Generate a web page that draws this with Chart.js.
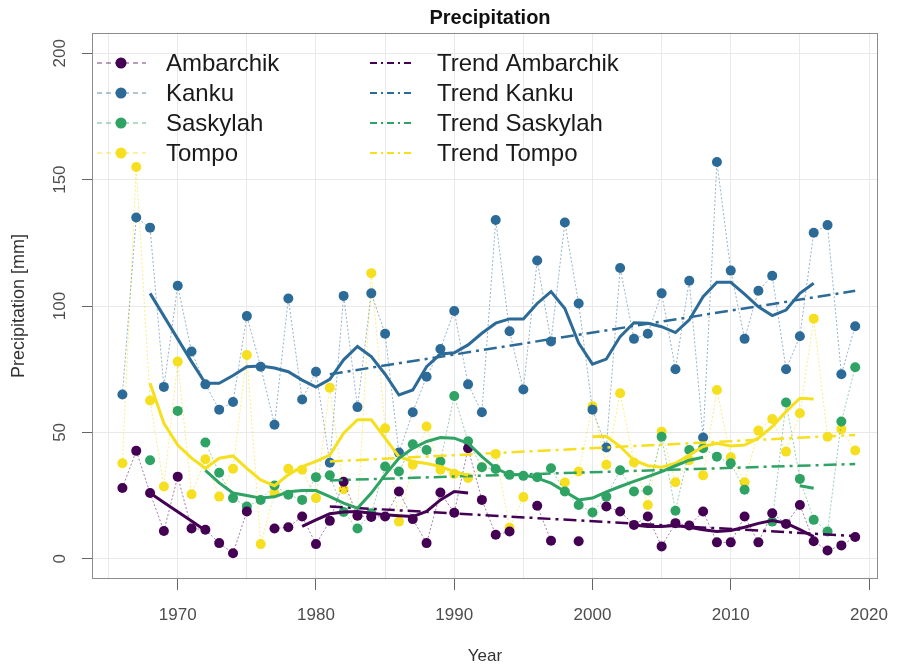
<!DOCTYPE html>
<html>
<head>
<meta charset="utf-8">
<script src="https://cdn.jsdelivr.net/npm/chart.js@4.4.0/dist/chart.umd.min.js"></script>
<style>
  html, body { margin: 0; padding: 0; background: #fff; }
</style>
</head>
<body>
<canvas id="myChart" width="897" height="667"></canvas>
<script>
const years = [1966, 1967, 1968, 1969, 1970, 1971, 1972, 1973, 1974, 1975,
  1976, 1977, 1978, 1979, 1980, 1981, 1982, 1983, 1984, 1985,
  1986, 1987, 1988, 1989, 1990, 1991, 1992, 1993, 1994, 1995,
  1996, 1997, 1998, 1999, 2000, 2001, 2002, 2003, 2004, 2005,
  2006, 2007, 2008, 2009, 2010, 2011, 2012, 2013, 2014, 2015,
  2016, 2017, 2018, 2019];

// yearly precipitation (mm), null = missing year
const ambarchik = [28, 42.7, 26, 11, 32.5, 12, 11.5, 6.2, 2.2, 18.7,
  null, 12, 12.5, 16.7, 5.8, 15, 30.5, 17, 16.5, 16.7,
  26.6, 15.7, 6.2, 26.2, 18.2, 43.7, 23.3, 9.5, 10.8, null,
  21, 7.1, null, 6.9, null, 20.7, 18.7, 13.4, 16.7, 4.9,
  14.1, 13.2, 18.7, 6.5, 6.5, 16.7, 6.5, 18, 13.8, 21.3,
  6.9, 3.3, 5.3, 8.6];
const kanku = [65, 135, 131, 68, 108, 82, 69, 59, 62, 96,
  76, 53, 103, 63, 74, 38, 104, 60, 105, 89,
  42, 58, 72, 83, 98, 69, 58, 134, 90, 67,
  118, 86, 133, 101, 59, 44, 115, 87, 89, 105,
  75, 110, 48, 157, 114, 87, 106, 112, 75, 88,
  129, 132, 73, 92];
const saskylah = [null, null, 39, null, 58.5, null, 46, 34, 24, 20.7,
  23.3, 29, 25.3, 23.3, 32.3, 33, 18.5, 12, 18, 36.5,
  34.5, 45.3, 43, 38.5, 64.4, 46.5, 36.2, 35.5, 33.2, 32.8,
  32.3, 35.8, 26.6, 21.3, 18.3, 24.6, 35, 26.6, 27, 48.3,
  19, 43, 43.7, 40.4, 37.8, 27.3, null, 14.7, 61.8, 31.6,
  15.4, 10.8, 54.3, 75.8];
const tompo = [37.8, 155, 62.6, 28.6, 78, 25.5, 39.4, 24.6, 35.6, 80.6,
  5.8, 26, 35.6, 35.2, 24, 67.7, 27.5, 17, 113, 51.6,
  14.7, 37.2, 52.3, 35.2, 33.6, 32, 36.2, 41.5, 12.3, 24.4,
  null, null, 30.2, 34.5, 60.3, 37.2, 65.5, 38.1, 21.3, 50.3,
  30.3, 39, 33, 66.8, 40.2, 30.3, 50.7, 55.3, 42.4, 57.6,
  95, 48.3, 51.3, 42.8];

// smoothed curves
const ambarchikSmooth = [null, null, 26, 22.3, 18.6, 14.9, 11.2, null, null, null,
  null, null, null, 12.8, 15.4, 17.8, 18.5, 18.7, 18, 17.4,
  17, 16.7, 18.7, 23.3, 26.6, 26, null, null, null, null,
  null, null, null, null, null, null, null, 13.4, 12.8, 12.8,
  13.2, 12.5, 11.5, 10.8, 11.2, 12.5, 14, 15.1, 14.1, 11.5,
  8.8, null, null, null];
const kankuSmooth = [null, null, 105, 96, 87, 78, 69.4, 69.4, 72.5, 76,
  76.3, 75.5, 74, 70.7, 67.9, 71, 78.7, 84, 80, 73,
  64.8, 66.8, 76, 81, 81.5, 84.6, 89.2, 93.2, 94.9, 94.9,
  101, 105.7, 99, 85.3, 77, 79, 87.9, 93.4, 93.2, 91.8,
  89.5, 94.5, 103.7, 109.4, 109.4, 104.7, 99.7, 96.2, 98.4, 105,
  109, null, null, null];
const saskylahSmooth = [null, null, null, null, null, null, 35, 30, 26, 25,
  24, 24.5, 26.5, 27, 27, 24.6, 22, 20, 26, 33.2,
  39.8, 43.7, 46.4, 48, 47.7, 45.7, 40.4, 35.8, 33.2, 33.2,
  31.9, 29.9, 26.6, 23.3, 24, 26.5, 28.6, 30.6, 32.5, 34.5,
  36.8, 39, 40.2, null, null, null, null, null, null, 28.9,
  27.9, null, null, null];
const tompoSmooth = [null, null, 69.4, 53.6, 45, 39.8, 35.8, 39.8, 40.7, 35.8,
  31.2, 28.9, 33.2, 36.5, 38.5, 41, 49.7, 55, 55, 47.7,
  40.4, 38.5, 37.7, 36.5, 34.5, 33, null, null, null, null,
  null, null, null, null, 48.3, 48.5, 44.4, 39, 36.8, 36.2,
  37.8, 41, 44.4, 45.7, 44.6, 45, 47.7, 52.3, 58.2, 63.5,
  63.2, null, null, null];

// linear trend end points
const trendYears = [1981, 2019];
const ambarchikTrend = [20.7, 9];
const kankuTrend = [73, 106];
const saskylahTrend = [31, 37.5];
const tompoTrend = [38.5, 49];

const stations = ["Ambarchik", "Kanku", "Saskylah", "Tompo"];
const colors = ["#440154", "#2c6a98", "#2ea364", "#f5df1f"];
const faded = ["rgba(68,1,84,0.5)", "rgba(44,106,152,0.5)", "rgba(46,163,100,0.5)", "rgba(245,223,31,0.55)"];

const xGridYears = [1965, 1970, 1975, 1980, 1985, 1990, 1995, 2000, 2005, 2010, 2015, 2020];
const yTickLabels = [0, 50, 100, 150, 200];

const raw = [ambarchik, kanku, saskylah, tompo];
const smooth = [ambarchikSmooth, kankuSmooth, saskylahSmooth, tompoSmooth];
const trends = [ambarchikTrend, kankuTrend, saskylahTrend, tompoTrend];

const toXY = (vals) => years.map((yr, i) => ({ x: yr, y: vals[i] }));

const datasets = [];
stations.forEach((name, i) => {
  datasets.push({
    label: name,
    data: toXY(raw[i]),
    borderColor: faded[i],
    borderWidth: 1,
    borderDash: [2, 2],
    pointRadius: 5,
    pointBackgroundColor: colors[i],
    pointBorderWidth: 0,
    order: 3
  });
  datasets.push({
    label: name + " smooth",
    data: toXY(smooth[i]),
    borderColor: colors[i],
    borderWidth: 3,
    pointRadius: 0,
    order: 1
  });
  datasets.push({
    label: "Trend " + name,
    data: trendYears.map((yr, k) => ({ x: yr, y: trends[i][k] })),
    borderColor: colors[i],
    borderWidth: 2.5,
    borderDash: [13, 5, 3, 5],
    pointRadius: 0,
    order: 2
  });
});

const fontFam = '"Liberation Sans", Arial, Helvetica, sans-serif';

// box, rotated y labels, title and in-plot legend
const decorations = {
  id: "decorations",
  afterDraw(chart) {
    const { ctx, chartArea: a, scales } = chart;
    ctx.save();
    ctx.strokeStyle = "#8c8c8c";
    ctx.lineWidth = 1;
    ctx.strokeRect(a.left + 0.5, a.top + 0.5, a.right - a.left - 1, a.bottom - a.top - 1);

    ctx.fillStyle = "#4d4d4d";
    ctx.font = "17px " + fontFam;
    ctx.textAlign = "center";
    ctx.textBaseline = "middle";
    yTickLabels.forEach((v) => {
      const y = scales.y.getPixelForValue(v);
      ctx.save();
      ctx.translate(60, y);
      ctx.rotate(-Math.PI / 2);
      ctx.fillText(String(v), 0, 0);
      ctx.restore();
    });

    ctx.fillStyle = "#111";
    ctx.font = "bold 20px " + fontFam;
    ctx.fillText("Precipitation", 490, 18);

    const rows = [63, 93, 123, 153];
    ctx.font = "24px " + fontFam;
    ctx.textAlign = "left";
    stations.forEach((name, i) => {
      const y = rows[i];
      ctx.strokeStyle = faded[i];
      ctx.lineWidth = 1.5;
      ctx.setLineDash([5, 4]);
      ctx.beginPath(); ctx.moveTo(97, y); ctx.lineTo(146, y); ctx.stroke();
      ctx.setLineDash([]);
      ctx.fillStyle = colors[i];
      ctx.beginPath(); ctx.arc(121, y, 5.5, 0, Math.PI * 2); ctx.fill();
      ctx.strokeStyle = colors[i];
      ctx.lineWidth = 2;
      ctx.setLineDash([7, 4, 2, 4]);
      ctx.beginPath(); ctx.moveTo(370, y); ctx.lineTo(415, y); ctx.stroke();
      ctx.setLineDash([]);
      ctx.fillStyle = "#1a1a1a";
      ctx.fillText(name, 166, y + 1);
      ctx.fillText("Trend " + name, 437, y + 1);
    });
    ctx.restore();
  }
};

new Chart(document.getElementById("myChart").getContext("2d"), {
  type: "line",
  data: { datasets: datasets },
  options: {
    responsive: false,
    animation: false,
    devicePixelRatio: 1,
    layout: { padding: { top: 33, right: 19, left: 0, bottom: 0 } },
    plugins: { legend: { display: false }, tooltip: { enabled: false } },
    scales: {
      x: {
        type: "linear",
        min: 1963.8,
        max: 2020.65,
        afterBuildTicks: (s) => { s.ticks = xGridYears.map((v) => ({ value: v })); },
        afterFit: (s) => { s.height = 88; s.paddingLeft = 0; s.paddingRight = 0; },
        border: { display: false },
        grid: {
          color: "#e9e9e9",
          tickLength: 11,
          tickColor: (c) => (c.tick && c.tick.value % 10 === 0 ? "#666" : "rgba(0,0,0,0)")
        },
        ticks: {
          autoSkip: false,
          maxRotation: 0,
          padding: 15,
          color: "#4d4d4d",
          font: { family: fontFam, size: 17 },
          callback: (v) => (v % 10 === 0 ? String(v) : "")
        },
        title: {
          display: true,
          text: "Year",
          color: "#333",
          font: { family: fontFam, size: 17 },
          padding: { top: 0, bottom: 0 }
        }
      },
      y: {
        min: -8,
        max: 208,
        afterBuildTicks: (s) => { s.ticks = yTickLabels.map((v) => ({ value: v })); },
        afterFit: (s) => { s.width = 92; s.paddingTop = 0; s.paddingBottom = 0; },
        border: { display: false },
        grid: { color: "#e9e9e9", tickLength: 10, tickColor: "#666" },
        ticks: { display: false },
        title: {
          display: true,
          text: "Precipitation [mm]",
          color: "#333",
          font: { family: fontFam, size: 18 },
          padding: { top: 8, bottom: 0 }
        }
      }
    }
  },
  plugins: [decorations]
});
</script>
</body>
</html>
